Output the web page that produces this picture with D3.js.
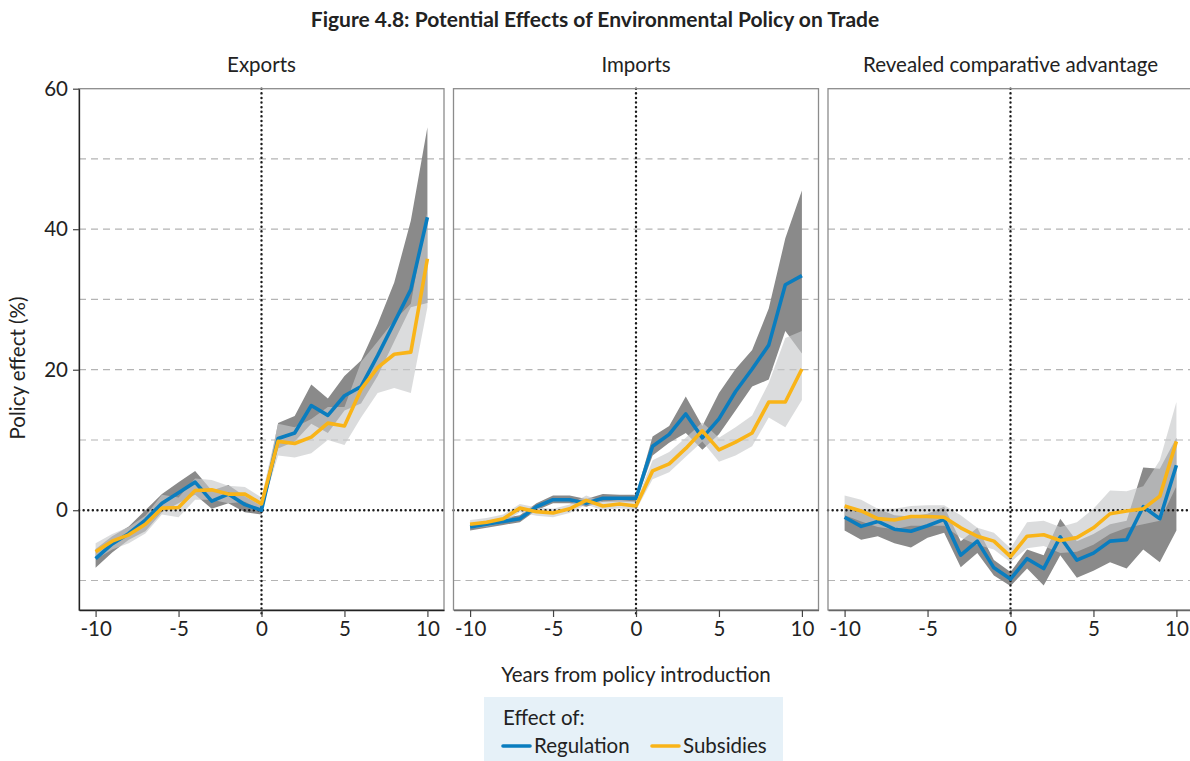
<!DOCTYPE html>
<html>
<head>
<meta charset="utf-8">
<script src="https://cdn.jsdelivr.net/npm/d3@7"></script>
<style>
  html, body { margin: 0; padding: 0; background: #fff; }
  svg { display: block; }
  text { font-family: Lato, "Open Sans", "Noto Sans", sans-serif; fill: #222; }
  .title { font-family: Lato, "Open Sans", sans-serif; font-weight: bold; }
</style>
</head>
<body>
<svg id="chart" width="1190" height="761"></svg>
<script>
// Event-study estimates: years relative to policy introduction
const years = d3.range(-10, 11);
const panelTitles = ["Exports", "Imports", "Revealed comparative advantage"];
const xTicks = [-10, -5, 0, 5, 10];
const yTicks = [0, 20, 40, 60];
const gridValues = [-10, 10, 20, 30, 40, 50];

// Exports
const exportsReg   = [-6.9, -4.8, -3.3, -1.4, 1.0, 2.5, 4.0, 1.3, 2.3, 0.8, 0.0, 10.2, 11.0, 14.9, 13.5, 16.3, 17.6, 22.0, 26.7, 31.4, 41.7];
const exportsRegLo = [-8.2, -6.0, -4.2, -3.0, -0.3, 1.0, 2.2, 0.2, 1.0, -0.3, -0.6, 8.8, 9.8, 12.3, 11.0, 14.2, 15.2, 19.1, 24.0, 28.9, 29.5];
const exportsRegHi = [-5.5, -3.7, -2.3, 0.0, 2.3, 4.0, 5.6, 2.8, 3.6, 2.0, 0.6, 12.4, 13.4, 17.9, 15.9, 19.1, 21.3, 26.5, 32.4, 41.2, 54.5];
const exportsSub   = [-5.9, -4.4, -3.5, -2.0, 0.3, 0.4, 2.8, 2.9, 2.3, 2.3, 0.9, 9.8, 9.5, 10.4, 12.4, 12.0, 17.2, 20.3, 22.2, 22.5, 35.8];
const exportsSubLo = [-7.0, -5.6, -4.7, -3.3, -0.6, -1.0, 1.5, 1.5, 1.0, 1.2, 0.0, 7.8, 7.5, 8.1, 10.0, 9.3, 13.2, 16.7, 17.4, 16.7, 28.9];
const exportsSubHi = [-4.7, -3.4, -2.4, -0.8, 2.2, 1.8, 4.5, 4.3, 3.5, 3.3, 1.8, 12.3, 11.8, 13.0, 14.7, 14.7, 21.1, 24.0, 27.0, 29.4, 42.6];

// Imports
const importsReg   = [-2.4, -2.0, -1.6, -1.2, 0.5, 1.5, 1.5, 1.0, 1.7, 1.7, 1.7, 9.1, 10.8, 13.7, 10.3, 13.0, 16.9, 20.1, 23.5, 32.1, 33.4];
const importsRegLo = [-2.9, -2.5, -2.1, -1.7, 0.0, 1.0, 1.0, 0.5, 1.2, 1.2, 1.2, 7.8, 9.6, 11.0, 8.6, 10.8, 14.2, 17.6, 18.6, 25.5, 22.3];
const importsRegHi = [-1.9, -1.5, -1.1, -0.7, 1.0, 2.1, 2.1, 1.6, 2.3, 2.2, 2.2, 10.5, 12.0, 16.2, 12.0, 16.7, 20.1, 22.8, 28.7, 38.7, 45.5];
const importsSub   = [-2.0, -1.7, -1.2, 0.3, -0.2, -0.4, 0.2, 1.4, 0.6, 0.9, 0.6, 5.6, 6.6, 8.8, 11.3, 8.6, 9.7, 11.0, 15.4, 15.4, 20.1];
const importsSubLo = [-2.6, -2.3, -1.8, -0.3, -0.8, -1.0, -0.4, 0.8, 0.0, 0.3, 0.0, 4.4, 5.4, 7.6, 9.8, 6.9, 7.8, 9.1, 13.2, 11.8, 15.7];
const importsSubHi = [-1.4, -1.1, -0.6, 0.9, 0.4, 0.2, 0.8, 2.1, 1.2, 1.5, 1.2, 7.1, 8.3, 10.3, 12.5, 10.3, 11.8, 13.5, 18.1, 24.5, 25.5];

// Revealed comparative advantage
const rcaReg   = [-1.0, -2.3, -1.6, -2.7, -3.0, -2.2, -1.3, -6.4, -4.4, -8.2, -9.8, -6.9, -8.3, -3.8, -7.1, -6.1, -4.4, -4.2, 0.5, -1.2, 6.4];
const rcaRegLo = [-2.9, -4.2, -3.7, -4.7, -5.3, -3.9, -3.2, -8.1, -6.1, -9.3, -10.8, -8.3, -10.7, -6.4, -9.6, -8.6, -7.4, -8.3, -5.6, -7.4, -2.9];
const rcaRegHi = [0.5, -0.2, 0.2, -0.7, -0.9, -0.5, 0.5, -4.4, -2.5, -7.1, -8.8, -5.6, -6.4, -1.2, -4.4, -3.4, -2.0, -1.5, 6.1, 5.9, 10.3];
const rcaSub   = [0.6, -0.1, -1.2, -1.4, -0.9, -0.9, -1.0, -2.5, -3.7, -4.4, -6.6, -3.7, -3.5, -4.3, -3.9, -2.5, -0.5, -0.1, 0.2, 2.0, 9.8];
const rcaSubLo = [-0.7, -1.6, -2.4, -2.7, -2.2, -2.2, -2.2, -3.9, -4.9, -5.6, -7.4, -5.4, -5.1, -6.1, -5.9, -4.9, -3.4, -2.5, -2.0, -1.5, 3.4];
const rcaSubHi = [2.1, 1.5, 0.2, 0.2, 0.6, 0.7, 0.7, -0.7, -2.5, -3.2, -5.4, -1.7, -1.5, -2.4, -1.7, 0.2, 2.8, 2.7, 3.4, 7.1, 15.4];

const seriesNames = ["Regulation", "Subsidies"];
const colors = { Regulation: "#0a7dbf", Subsidies: "#f9b418" };

const panels = [
  { title: panelTitles[0], reg: exportsReg, regLo: exportsRegLo, regHi: exportsRegHi, sub: exportsSub, subLo: exportsSubLo, subHi: exportsSubHi },
  { title: panelTitles[1], reg: importsReg, regLo: importsRegLo, regHi: importsRegHi, sub: importsSub, subLo: importsSubLo, subHi: importsSubHi },
  { title: panelTitles[2], reg: rcaReg, regLo: rcaRegLo, regHi: rcaRegHi, sub: rcaSub, subLo: rcaSubLo, subHi: rcaSubHi }
];

const svg = d3.select("#chart");
const panelW = 365, panelGap = 9.5, firstLeft = 79;
const plotTop = 88.7, plotBottom = 610;
const labelSize = "20.5px", tickSize = "20.5px";

const y = d3.scaleLinear().domain([-14.2, 60]).range([plotBottom, plotTop]);

svg.append("text").attr("class", "title")
  .attr("x", 595).attr("y", 27).attr("text-anchor", "middle")
  .style("font-size", "21px").text("Figure 4.8: Potential Effects of Environmental Policy on Trade");

panels.forEach((p, i) => {
  const left = firstLeft + i * (panelW + panelGap);
  const x = d3.scaleLinear().domain([-11, 11]).range([left, left + panelW]);
  const g = svg.append("g");

  // facet title
  g.append("text").attr("x", left + panelW / 2).attr("y", 72)
    .attr("text-anchor", "middle").style("font-size", labelSize).text(p.title);

  // dashed grid
  g.selectAll(".grid").data(gridValues).join("line")
    .attr("x1", left).attr("x2", left + panelW)
    .attr("y1", d => y(d)).attr("y2", d => y(d))
    .attr("stroke", "#b4b4b4").attr("stroke-width", 1.2).attr("stroke-dasharray", "7,5");

  // confidence bands
  const band = (lo, hi) => d3.area().x((d, k) => x(years[k])).y0((d, k) => y(lo[k])).y1((d, k) => y(hi[k]))(years);
  g.append("path").attr("d", band(p.regLo, p.regHi)).attr("fill", "#8a8a8a");
  g.append("path").attr("d", band(p.subLo, p.subHi)).attr("fill", "#c8c9cb").attr("fill-opacity", 0.65);

  // reference lines at zero
  g.append("line").attr("x1", left).attr("x2", left + panelW).attr("y1", y(0)).attr("y2", y(0))
    .attr("stroke", "#1a1a1a").attr("stroke-width", 2.4).attr("stroke-dasharray", "0.1,4.5").attr("stroke-linecap", "round");
  g.append("line").attr("x1", x(0)).attr("x2", x(0)).attr("y1", plotTop).attr("y2", plotBottom + 6)
    .attr("stroke", "#1a1a1a").attr("stroke-width", 2.4).attr("stroke-dasharray", "0.1,4.5").attr("stroke-linecap", "round");

  // estimate lines
  const line = vals => d3.line().x((d, k) => x(years[k])).y((d, k) => y(vals[k]))(years);
  g.append("path").attr("d", line(p.reg)).attr("fill", "none").attr("stroke", colors.Regulation).attr("stroke-width", 3.6).attr("stroke-linejoin", "round");
  g.append("path").attr("d", line(p.sub)).attr("fill", "none").attr("stroke", colors.Subsidies).attr("stroke-width", 3.6).attr("stroke-linejoin", "round");

  // panel frame
  g.append("rect").attr("x", left).attr("y", plotTop).attr("width", panelW).attr("height", plotBottom - plotTop)
    .attr("fill", "none").attr("stroke", "#8c8c8c").attr("stroke-width", 1.3);

  // x axis
  const xAxis = d3.axisBottom(x).tickValues(xTicks).tickSize(7).tickSizeOuter(0).tickPadding(4).tickFormat(d3.format("d"));
  const ax = g.append("g").attr("transform", `translate(0,${plotBottom})`).call(xAxis);
  ax.select(".domain").attr("stroke", i === 0 ? "#222" : "#666").attr("stroke-width", 1.3);
  ax.selectAll(".tick line").attr("stroke", "#444").attr("stroke-width", 1.2);
  ax.selectAll(".tick text").style("font-family", "Lato, 'Open Sans', sans-serif").style("font-size", tickSize).attr("fill", "#222")
    .text(d => d < 0 ? "-" + Math.abs(d) : d);

  if (i === 0) {
    const yAxis = d3.axisLeft(y).tickValues(yTicks).tickSize(6).tickSizeOuter(0).tickPadding(5);
    const ay = g.append("g").attr("transform", `translate(${left},0)`).call(yAxis);
    ay.select(".domain").attr("stroke", "#222").attr("stroke-width", 1.3);
    ay.selectAll(".tick line").attr("stroke", "#444").attr("stroke-width", 1.2);
    ay.selectAll(".tick text").style("font-family", "Lato, 'Open Sans', sans-serif").style("font-size", tickSize).attr("fill", "#222");
  }
});

// axis titles
svg.append("text").attr("transform", "translate(25,368) rotate(-90)")
  .attr("text-anchor", "middle").style("font-size", labelSize).text("Policy effect (%)");
svg.append("text").attr("x", 636).attr("y", 682).attr("text-anchor", "middle")
  .style("font-size", labelSize).text("Years from policy introduction");

// legend
const lg = svg.append("g");
lg.append("rect").attr("x", 484).attr("y", 697).attr("width", 299).attr("height", 64).attr("fill", "#e6f1f8");
lg.append("text").attr("x", 503).attr("y", 725).style("font-size", labelSize).text("Effect of:");
const legendX = [503, 652];
seriesNames.forEach((s, k) => {
  lg.append("line").attr("x1", legendX[k]).attr("x2", legendX[k] + 27).attr("y1", 746).attr("y2", 746)
    .attr("stroke", colors[s]).attr("stroke-width", 3.6).attr("stroke-linecap", "round");
  lg.append("text").attr("x", legendX[k] + 31).attr("y", 753).style("font-size", labelSize).text(s);
});
</script>
</body>
</html>
